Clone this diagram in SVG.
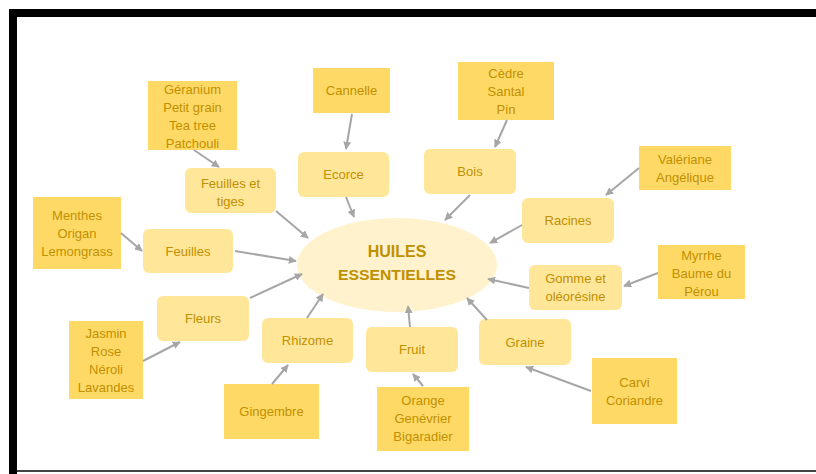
<svg xmlns="http://www.w3.org/2000/svg" width="816" height="474" viewBox="0 0 816 474">
<defs>
<marker id="ah" viewBox="0 0 10 10" refX="9" refY="5" markerWidth="4" markerHeight="4" orient="auto" markerUnits="strokeWidth">
<path d="M0,0 L10,5 L0,10 z" fill="#A6A6A6"/>
</marker>
<style>
.src{fill:#FFD966}
.mid{fill:#FFE699}
.t{font-family:"Liberation Sans",Arial,sans-serif;font-size:13px;fill:#BF9000;text-anchor:middle}
.c{stroke:#A6A6A6;stroke-width:2;fill:none;marker-end:url(#ah)}
</style>
</defs>
<rect width="816" height="474" fill="#ffffff"/>
<rect x="9" y="9" width="807" height="8" fill="#000"/>
<rect x="9" y="9" width="8" height="465" fill="#000"/>
<rect x="17" y="470" width="799" height="2" fill="#444"/>

<g id="center">
<ellipse cx="397" cy="265" rx="100" ry="47" fill="#FFF2CC"/>
<text x="397" y="257" font-family="Liberation Sans,Arial,sans-serif" font-size="16" font-weight="bold" fill="#BF9000" text-anchor="middle">HUILES</text>
<text x="397" y="280" font-family="Liberation Sans,Arial,sans-serif" font-size="15" font-weight="bold" fill="#BF9000" text-anchor="middle" textLength="118" lengthAdjust="spacingAndGlyphs">ESSENTIELLES</text>
</g>

<g id="feuilles-tiges"><rect class="mid" x="185" y="168" width="91" height="45" rx="6"/><text class="t" x="230.5" y="188">Feuilles et</text><text class="t" x="230.5" y="206">tiges</text></g>
<g id="feuilles"><rect class="mid" x="143" y="229" width="90" height="44" rx="6"/><text class="t" x="188" y="256">Feuilles</text></g>
<g id="fleurs"><rect class="mid" x="157" y="296" width="92" height="45" rx="6"/><text class="t" x="203" y="323">Fleurs</text></g>
<g id="ecorce"><rect class="mid" x="298" y="152" width="91" height="45" rx="6"/><text class="t" x="343.5" y="179">Ecorce</text></g>
<g id="bois"><rect class="mid" x="424" y="149" width="92" height="45" rx="6"/><text class="t" x="470" y="176">Bois</text></g>
<g id="racines"><rect class="mid" x="522" y="198" width="92" height="45" rx="6"/><text class="t" x="568" y="225">Racines</text></g>
<g id="gomme"><rect class="mid" x="529" y="265" width="93" height="45" rx="6"/><text class="t" x="575.5" y="283">Gomme et</text><text class="t" x="575.5" y="301">oléorésine</text></g>
<g id="rhizome"><rect class="mid" x="262" y="318" width="91" height="45" rx="6"/><text class="t" x="307.5" y="345">Rhizome</text></g>
<g id="fruit"><rect class="mid" x="366" y="327" width="92" height="45" rx="6"/><text class="t" x="412" y="354">Fruit</text></g>
<g id="graine"><rect class="mid" x="479" y="319" width="92" height="46" rx="6"/><text class="t" x="525" y="347">Graine</text></g>

<g id="geranium"><rect class="src" x="148" y="81" width="89" height="69"/><text class="t" x="192.5" y="94">Géranium</text><text class="t" x="192.5" y="112">Petit grain</text><text class="t" x="192.5" y="130">Tea tree</text><text class="t" x="192.5" y="148">Patchouli</text></g>
<g id="cannelle"><rect class="src" x="313" y="68" width="77" height="45"/><text class="t" x="351.5" y="95">Cannelle</text></g>
<g id="cedre"><rect class="src" x="458" y="62" width="96" height="58"/><text class="t" x="506" y="78">Cèdre</text><text class="t" x="506" y="96">Santal</text><text class="t" x="506" y="114">Pin</text></g>
<g id="valeriane"><rect class="src" x="639" y="146" width="92" height="44"/><text class="t" x="685" y="164">Valériane</text><text class="t" x="685" y="182">Angélique</text></g>
<g id="myrrhe"><rect class="src" x="658" y="245" width="87" height="54"/><text class="t" x="701.5" y="260">Myrrhe</text><text class="t" x="701.5" y="278">Baume du</text><text class="t" x="701.5" y="296">Pérou</text></g>
<g id="carvi"><rect class="src" x="592" y="358" width="85" height="66"/><text class="t" x="634.5" y="387">Carvi</text><text class="t" x="634.5" y="405">Coriandre</text></g>
<g id="orange"><rect class="src" x="377" y="387" width="92" height="64"/><text class="t" x="423" y="405">Orange</text><text class="t" x="423" y="423">Genévrier</text><text class="t" x="423" y="441">Bigaradier</text></g>
<g id="gingembre"><rect class="src" x="224" y="384" width="95" height="55"/><text class="t" x="271.5" y="416">Gingembre</text></g>
<g id="jasmin"><rect class="src" x="69" y="321" width="74" height="78"/><text class="t" x="106" y="338">Jasmin</text><text class="t" x="106" y="356">Rose</text><text class="t" x="106" y="374">Néroli</text><text class="t" x="106" y="392">Lavandes</text></g>
<g id="menthes"><rect class="src" x="33" y="197" width="88" height="72"/><text class="t" x="77" y="220">Menthes</text><text class="t" x="77" y="238">Origan</text><text class="t" x="77" y="256">Lemongrass</text></g>

<g id="connectors">
<line class="c" x1="194" y1="150" x2="219" y2="167"/>
<line class="c" x1="352" y1="114" x2="346" y2="149"/>
<line class="c" x1="507" y1="120" x2="495" y2="147"/>
<line class="c" x1="639" y1="168" x2="606" y2="195"/>
<line class="c" x1="658" y1="273" x2="624" y2="286"/>
<line class="c" x1="591" y1="391" x2="526" y2="367"/>
<line class="c" x1="423" y1="386" x2="413" y2="374"/>
<line class="c" x1="272" y1="384" x2="288" y2="365"/>
<line class="c" x1="143" y1="361" x2="180" y2="342"/>
<line class="c" x1="121" y1="233" x2="142" y2="251"/>
<line class="c" x1="276" y1="211" x2="308" y2="238"/>
<line class="c" x1="235" y1="251" x2="296" y2="261"/>
<line class="c" x1="250" y1="298" x2="302" y2="274"/>
<line class="c" x1="346" y1="197" x2="354" y2="217"/>
<line class="c" x1="470" y1="195" x2="445" y2="220"/>
<line class="c" x1="522" y1="225" x2="490" y2="243"/>
<line class="c" x1="529" y1="288" x2="488" y2="279"/>
<line class="c" x1="487" y1="320" x2="467" y2="298"/>
<line class="c" x1="410" y1="327" x2="408" y2="306"/>
<line class="c" x1="307" y1="318" x2="323" y2="294"/>
</g>
</svg>
